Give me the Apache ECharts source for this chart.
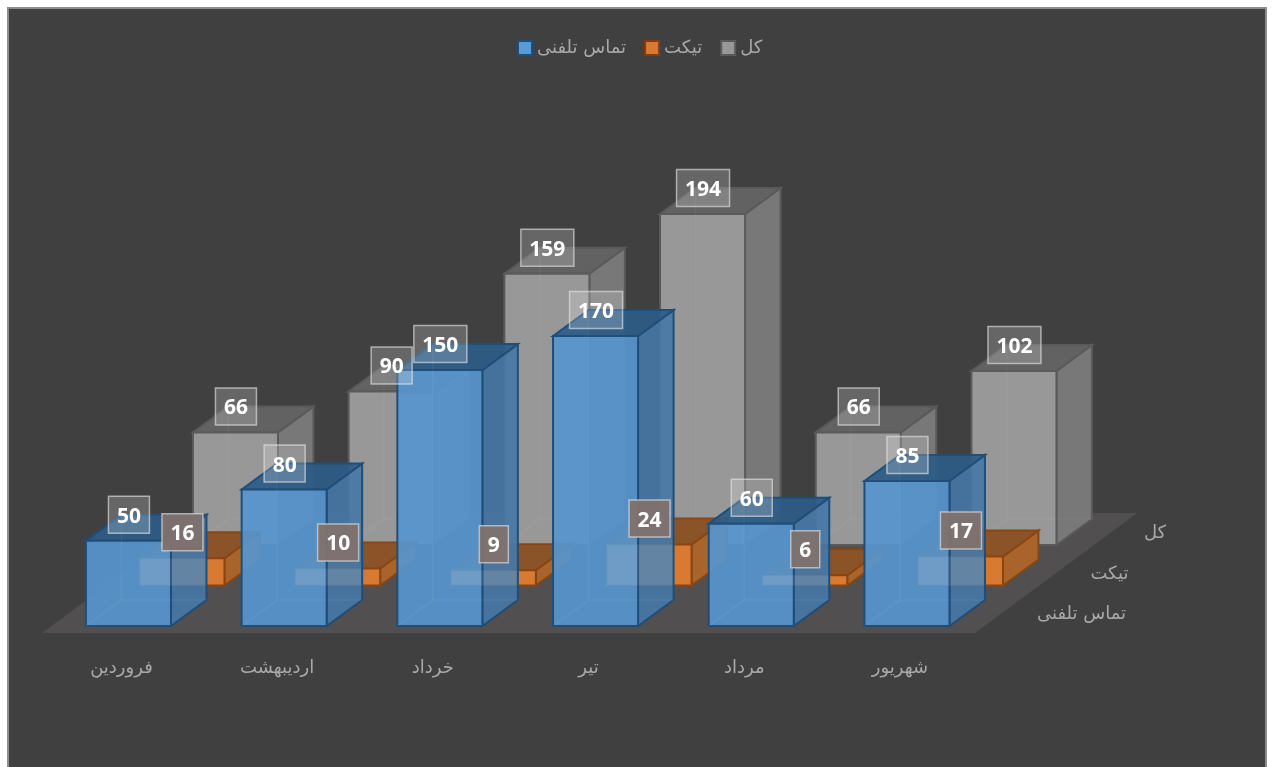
<!DOCTYPE html>
<html>
<head>
<meta charset="utf-8">
<style>
html,body{margin:0;padding:0;background:#fff;width:1272px;height:767px;overflow:hidden}
#frame{position:absolute;left:7px;top:7px;width:1256px;height:770px;background:#404040;border:2px solid #8c8c8c}
#chart{position:absolute;left:0;top:0;width:1272px;height:767px}
</style>
<script src="https://cdn.jsdelivr.net/npm/echarts@6/dist/echarts.min.js"></script>
</head>
<body>
<div id="frame"></div>
<div id="chart"></div>
<script>
var months = ['فروردین','اردیبهشت','خرداد','تیر','مرداد','شهریور'];
var phoneValues = [50,80,150,170,60,85];
var ticketValues = [16,10,9,24,6,17];
var totalValues = [66,90,159,194,66,102];
var phoneName = 'تماس تلفنی';
var ticketName = 'تیکت';
var totalName = 'کل';
var depthNames = [phoneName, ticketName, totalName];

// oblique projection
var DEPTH_STEP = [53.5,-40.5], BOX = [35.5,-26], BAR_RATIO = 0.546;
var FONT_FAMILY = '"DejaVu Sans","Noto Sans",sans-serif';

var palette = {
  total:  {front:'#989898', side:'#787878', top:'#626262', stroke:'#5a5a5a', inner:'rgba(255,255,255,0.04)'},
  ticket: {front:'#d97a33', side:'#a9642c', top:'#8a5428', stroke:'#8a4612', inner:'rgba(0,0,0,0)'},
  phone:  {front:'rgba(86,148,204,0.93)', side:'rgba(70,120,166,0.9)', top:'rgba(45,92,136,0.92)', stroke:'#1f4e79', inner:'rgba(255,255,255,0.05)'}
};

function barGeom(api, i, v, depth){
  var base = api.coord([i,0]), top = api.coord([i,v]);
  var w = api.size([1,0])[0]*BAR_RATIO;
  var dx = DEPTH_STEP[0]*depth, dy = DEPTH_STEP[1]*depth;
  return {x0:base[0]-w/2+dx, x1:base[0]+w/2+dx, yb:base[1]+dy, yt:top[1]+dy};
}
function poly(points, fill, stroke, lw){
  return {type:'polygon', shape:{points:points}, style:{fill:fill, stroke:stroke||null, lineWidth:lw||0}};
}
function barRender(depth, colors, ghost){
  return function(params, api){
    var i = api.value(0), v = api.value(1);
    var g = barGeom(api,i,v,depth);
    var bx = BOX[0], by = BOX[1], kids = [];
    kids.push(poly([[g.x1,g.yt],[g.x1+bx,g.yt+by],[g.x1+bx,g.yb+by],[g.x1,g.yb]], colors.side, colors.stroke, 2));
    kids.push(poly([[g.x0,g.yt],[g.x0+bx,g.yt+by],[g.x1+bx,g.yt+by],[g.x1,g.yt]], colors.top, colors.stroke, 2));
    kids.push(poly([[g.x0,g.yt],[g.x1,g.yt],[g.x1,g.yb],[g.x0,g.yb]], colors.front, colors.stroke, 2));
    // rear edges seen through the translucent faces
    kids.push({type:'polyline', shape:{points:[[g.x0,g.yb],[g.x0+bx,g.yb+by],[g.x0+bx,g.yt+by]]}, style:{fill:null, stroke:colors.inner, lineWidth:1.5}});
    kids.push({type:'line', shape:{x1:g.x0+bx,y1:g.yb+by,x2:g.x1+bx,y2:g.yb+by}, style:{stroke:colors.inner, lineWidth:1.5}});
    if (ghost) {
      var t = barGeom(api,i,ghost[i],1);
      kids.push(poly([[t.x0,t.yt],[g.x1+bx-1,t.yt],[g.x1+bx-1,t.yb],[t.x0,t.yb]], 'rgba(255,255,255,0.09)'));
    }
    return {type:'group', children:kids};
  };
}
function labelRender(depth, bg){
  return function(params, api){
    var i = api.value(0), v = api.value(1);
    var g = barGeom(api,i,v,depth);
    var s = String(v), cx = (g.x0+g.x1)/2+0.5, cy = g.yt-26;
    var w = 12*s.length+17, h = 37;
    return {type:'group', children:[
      {type:'rect', shape:{x:cx-w/2, y:cy-h/2, width:w, height:h}, style:{fill:bg, stroke:'rgba(225,225,225,0.65)', lineWidth:1.5}},
      {type:'text', x:cx, y:cy+2, style:{text:s, fill:'#fff', font:'bold 21px "Open Sans",sans-serif', align:'center', verticalAlign:'middle'}}
    ]};
  };
}
function pairs(arr){ return arr.map(function(v,i){ return [i,v]; }); }
function barSeries(name, arr, depth, colors, solid, ghost){
  return {type:'custom', name:name, coordinateSystem:'cartesian2d', data:pairs(arr), encode:{x:0,y:1}, z:3, clip:false, silent:true,
    itemStyle:{color:solid}, renderItem:barRender(depth, colors, ghost)};
}
function labelSeries(name, arr, depth, bg){
  return {type:'custom', name:name+' برچسب', coordinateSystem:'cartesian2d', data:pairs(arr), encode:{x:0,y:1}, z:10, clip:false, silent:true,
    renderItem:labelRender(depth, bg)};
}
function floorEdges(api){
  var band = api.size([1,0])[0];
  var a = api.coord([0,0]), b = api.coord([months.length-1,0]);
  return {left:a[0]-band/2-8.6, right:b[0]+band/2-9.6, y:a[1]+7};
}
var floorSeries = {type:'custom', name:'floor', coordinateSystem:'cartesian2d', data:[[0,0]], encode:{x:0,y:1}, z:1, clip:false, silent:true,
  renderItem:function(params, api){
    var e = floorEdges(api);
    var dx = DEPTH_STEP[0]*3+1.5, dy = DEPTH_STEP[1]*3+1.5;
    return poly([[e.left,e.y],[e.right,e.y],[e.right+dx,e.y+dy],[e.left+dx,e.y+dy]], '#514f4f');
  }};
var depthLabelSeries = {type:'custom', name:'depth', coordinateSystem:'cartesian2d', data:depthNames.map(function(n,i){return [i,0];}), encode:{x:0,y:1}, z:2, clip:false, silent:true,
  renderItem:function(params, api){
    var k = params.dataIndex, e = floorEdges(api);
    return {type:'text', x:e.right+DEPTH_STEP[0]*(k+0.5)+35, y:e.y+DEPTH_STEP[1]*(k+0.5)+2, style:{
      text:depthNames[k], fill:'#a8a8a8', font:'18px '+FONT_FAMILY, align:'left', verticalAlign:'middle'}};
  }};

var chart = echarts.init(document.getElementById('chart'), null, {renderer:'canvas'});
chart.setOption({
  animation:false,
  backgroundColor:'transparent',
  tooltip:{show:false},
  legend:{
    left:512, top:34, icon:'rect', itemWidth:14, itemHeight:14, itemGap:18, selectedMode:false,
    textStyle:{color:'#a8a8a8', fontSize:18, fontFamily:FONT_FAMILY},
    data:[
      {name:phoneName, itemStyle:{color:'#5b9bd5', borderColor:'#1f4e79', borderWidth:2}},
      {name:ticketName, itemStyle:{color:'#d97a33', borderColor:'#843c0c', borderWidth:2}},
      {name:totalName, itemStyle:{color:'#989898', borderColor:'#5a5a5a', borderWidth:2}}
    ]
  },
  grid:{left:50.6, width:934.2, top:199.5, height:426.5, containLabel:false},
  xAxis:{type:'category', data:months, axisLine:{show:false}, axisTick:{show:false}, splitLine:{show:false},
    axisLabel:{show:true, interval:0, color:'#a8a8a8', fontSize:18, fontFamily:FONT_FAMILY, margin:33, padding:[0,14,0,0]}},
  yAxis:{type:'value', min:0, max:250, interval:50, axisLine:{show:false}, axisTick:{show:false}, splitLine:{show:false}, axisLabel:{show:false}},
  series:[
    floorSeries,
    depthLabelSeries,
    barSeries(totalName,totalValues,2,palette.total,'#989898'),
    barSeries(ticketName,ticketValues,1,palette.ticket,'#d97a33'),
    barSeries(phoneName,phoneValues,0,palette.phone,'#5b9bd5',ticketValues),
    labelSeries(totalName,totalValues,2,'rgba(255,255,255,0.2)'),
    labelSeries(ticketName,ticketValues,1,'rgba(128,114,109,0.95)'),
    labelSeries(phoneName,phoneValues,0,'rgba(255,255,255,0.2)')
  ]
});
</script>
</body>
</html>
